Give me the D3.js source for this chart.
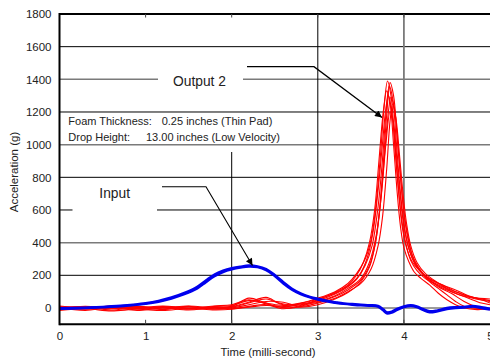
<!DOCTYPE html>
<html><head><meta charset="utf-8">
<script src="https://cdn.jsdelivr.net/npm/d3@7"></script>
<style>
html,body{margin:0;padding:0;background:#fff;}
svg{display:block;font-family:"Liberation Sans",Arial,sans-serif;}
</style></head>
<body>
<svg id="c" width="490" height="358"></svg>
<script>
// ---------- data ----------
const xTicks = [0, 1, 2, 3, 4, 5];
const yTicks = [0, 200, 400, 600, 800, 1000, 1200, 1400, 1600, 1800];
const xTitle = "Time (milli-second)";
const yTitle = "Acceleration (g)";
const annotationLines = [["Foam Thickness:", "0.25 inches (Thin Pad)"], ["Drop Height:", "13.00 inches (Low Velocity)"]];
const labelOutput = "Output 2";
const labelInput = "Input";

// Input (blue) traces: [time ms, acceleration g]
const input1 = [[0,-5],[0.25,-2],[0.5,4],[0.75,12],[1.0,25],[1.15,38],[1.3,58],[1.45,84],[1.6,120],[1.7,158],[1.8,195],[1.9,220],[2.0,236],[2.1,247],[2.2,254],[2.3,250],[2.4,232],[2.5,195],[2.6,150],[2.7,112],[2.8,85],[2.9,66],[3.0,52],[3.1,40],[3.2,32],[3.3,25],[3.4,20],[3.5,16],[3.6,14],[3.7,8],[3.76,-15],[3.8,-33],[3.86,-28],[3.92,-12],[4.0,5],[4.08,12],[4.15,5],[4.22,-12],[4.3,-27],[4.38,-22],[4.5,-6],[4.6,0],[4.7,2],[4.8,8],[4.9,0],[5.0,-10]];
const input2 = [[0,-2],[0.25,1],[0.5,7],[0.75,15],[1.0,29],[1.15,43],[1.3,64],[1.45,92],[1.6,130],[1.7,168],[1.8,205],[1.9,228],[2.0,243],[2.1,253],[2.2,260],[2.3,255],[2.4,238],[2.5,202],[2.6,158],[2.7,118],[2.8,90],[2.9,70],[3.0,57],[3.1,45],[3.2,36],[3.3,28],[3.4,24],[3.5,20],[3.6,17],[3.7,12],[3.76,-8],[3.8,-26],[3.86,-22],[3.92,-6],[4.0,10],[4.08,17],[4.15,10],[4.22,-6],[4.3,-20],[4.38,-16],[4.5,0],[4.6,5],[4.7,7],[4.8,12],[4.9,5],[5.0,-4]];

// Output 2 (red) traces
const outA = [[0,5],[0.3,-8],[0.6,6],[0.9,-5],[1.2,8],[1.5,-4],[1.8,10],[2.0,15],[2.2,45],[2.4,30],[2.6,15],[2.8,30],[3.0,60],[3.2,100],[3.35,150],[3.45,210],[3.55,300],[3.62,420],[3.68,650],[3.73,950],[3.77,1230],[3.81,1390],[3.85,1300],[3.89,1050],[3.93,780],[3.97,560],[4.02,400],[4.08,290],[4.15,230],[4.25,180],[4.35,150],[4.5,110],[4.65,80],[4.8,60],[5.0,40]];
const outB = [[0,-10],[0.3,4],[0.6,-12],[0.9,3],[1.2,-10],[1.5,6],[1.8,-5],[2.0,5],[2.2,30],[2.4,55],[2.6,20],[2.8,20],[3.0,45],[3.2,85],[3.35,130],[3.45,175],[3.55,260],[3.63,380],[3.7,620],[3.75,900],[3.79,1180],[3.83,1360],[3.87,1280],[3.91,1030],[3.95,760],[3.99,560],[4.04,400],[4.1,300],[4.18,230],[4.3,170],[4.45,130],[4.6,90],[4.75,60],[4.9,30],[5.0,20]];
const outC = [[0,12],[0.3,0],[0.6,10],[0.9,-3],[1.2,5],[1.5,-8],[1.8,4],[2.0,10],[2.2,60],[2.35,40],[2.5,10],[2.7,0],[2.9,25],[3.0,35],[3.2,70],[3.35,110],[3.5,170],[3.6,260],[3.67,400],[3.72,600],[3.77,900],[3.81,1150],[3.85,1290],[3.89,1220],[3.93,1000],[3.97,750],[4.01,540],[4.06,390],[4.12,290],[4.2,220],[4.3,160],[4.4,120],[4.5,80],[4.6,40],[4.7,10],[4.8,0],[5.0,-5]];
const outD = [[0,-5],[0.3,10],[0.6,-5],[0.9,8],[1.2,-6],[1.5,10],[1.8,-8],[2.0,0],[2.2,20],[2.4,40],[2.6,35],[2.8,10],[3.0,30],[3.2,60],[3.35,100],[3.5,150],[3.62,240],[3.7,380],[3.75,550],[3.8,850],[3.84,1150],[3.87,1250],[3.91,1150],[3.95,930],[3.99,700],[4.03,520],[4.08,380],[4.15,280],[4.25,210],[4.35,170],[4.5,120],[4.65,90],[4.8,65],[5.0,55]];
const outE = [[0,0],[0.3,-15],[0.6,2],[0.9,-15],[1.2,0],[1.5,-12],[1.8,2],[2.0,-5],[2.2,10],[2.4,20],[2.6,-5],[2.8,15],[3.0,50],[3.2,95],[3.35,140],[3.45,200],[3.53,280],[3.6,400],[3.66,600],[3.71,900],[3.76,1200],[3.8,1330],[3.84,1250],[3.88,1000],[3.92,720],[3.96,500],[4.0,370],[4.06,280],[4.12,220],[4.2,180],[4.3,140],[4.4,90],[4.5,50],[4.6,20],[4.7,0],[4.85,-10],[5.0,-5]];
const outF = [[0,8],[0.3,-3],[0.6,12],[0.9,0],[1.2,12],[1.5,0],[1.8,12],[2.0,20],[2.2,50],[2.4,25],[2.6,5],[2.8,25],[3.0,40],[3.2,75],[3.35,120],[3.5,180],[3.6,280],[3.68,450],[3.74,700],[3.79,1000],[3.84,1200],[3.88,1130],[3.92,900],[3.96,680],[4.0,500],[4.06,360],[4.13,270],[4.22,210],[4.32,170],[4.45,140],[4.6,100],[4.75,70],[4.9,55],[5.0,45]];
const outG = [[0,-15],[0.3,-5],[0.6,-18],[0.9,-8],[1.2,-15],[1.5,-3],[1.8,-12],[2.0,-8],[2.2,5],[2.4,15],[2.6,10],[2.8,5],[3.0,20],[3.2,55],[3.35,95],[3.5,160],[3.6,250],[3.67,400],[3.72,620],[3.76,880],[3.8,1180],[3.84,1380],[3.88,1300],[3.92,1060],[3.96,800],[4.0,590],[4.05,430],[4.1,320],[4.18,240],[4.28,180],[4.4,130],[4.55,90],[4.7,40],[4.85,5],[5.0,-10]];
const outH = [[0,3],[0.3,8],[0.6,-2],[0.9,10],[1.2,2],[1.5,12],[1.8,0],[2.0,8],[2.2,35],[2.4,65],[2.55,30],[2.7,20],[2.9,40],[3.0,55],[3.2,90],[3.35,135],[3.48,200],[3.57,300],[3.64,460],[3.7,720],[3.75,1000],[3.79,1220],[3.82,1300],[3.86,1200],[3.9,950],[3.94,700],[3.98,500],[4.03,370],[4.1,280],[4.2,220],[4.3,180],[4.45,140],[4.6,110],[4.75,75],[4.9,50],[5.0,30]];

const outputTraces = [outA, outB, outC, outD, outE, outF, outG, outH];
const inputTraces = [input1, input2];

// ---------- drawing ----------
const svg = d3.select("#c");
const x = d3.scaleLinear().domain([0, 5]).range([59.5, 490]);
const y = d3.scaleLinear().domain([-100, 1800]).range([324.3, 14]);

// horizontal gridlines (style per line as in the reference)
const grayLines = new Set([1400, 1000, 400, 0]);
const gaps = {1400: [158, 243], 600: [72.5, 157]};
const grid = svg.append("g");
yTicks.filter(v => v < 1800).forEach(v => {
  const col = grayLines.has(v) ? "#7a7a7a" : "#000";
  const w = grayLines.has(v) ? 1.5 : 1;
  const segs = gaps[v] ? [[x(0), gaps[v][0]], [gaps[v][1], x(5)]] : [[x(0), x(5)]];
  segs.forEach(s => grid.append("line").attr("x1", s[0]).attr("x2", s[1])
    .attr("y1", y(v)).attr("y2", y(v)).attr("stroke", col).attr("stroke-width", w));
});
// vertical gridlines
grid.append("line").attr("x1", x(2)).attr("x2", x(2)).attr("y1", 152).attr("y2", y(-100)).attr("stroke", "#000").attr("stroke-width", 1);
grid.append("line").attr("x1", x(3)).attr("x2", x(3)).attr("y1", y(1800)).attr("y2", y(-100)).attr("stroke", "#000").attr("stroke-width", 1);
grid.append("line").attr("x1", x(4)).attr("x2", x(4)).attr("y1", y(1800)).attr("y2", y(-100)).attr("stroke", "#7a7a7a").attr("stroke-width", 1.8);

// traces
const line = d3.line().x(d => x(d[0])).y(d => y(d[1])).curve(d3.curveCatmullRom.alpha(0.5));
svg.append("g").selectAll("path").data(outputTraces).join("path")
  .attr("d", line).attr("fill", "none").attr("stroke", "#ff0000").attr("stroke-width", 1.1);
svg.append("g").selectAll("path").data(inputTraces).join("path")
  .attr("d", line).attr("fill", "none").attr("stroke", "#0000ee").attr("stroke-width", 2.4);

// frame: top, left, bottom
svg.append("line").attr("x1", x(0)).attr("x2", x(5)).attr("y1", y(1800)).attr("y2", y(1800)).attr("stroke", "#000").attr("stroke-width", 2.2);
svg.append("line").attr("x1", x(0)).attr("x2", x(0)).attr("y1", y(1800) - 1).attr("y2", y(-100) + 1).attr("stroke", "#000").attr("stroke-width", 2);
svg.append("line").attr("x1", x(0)).attr("x2", x(5)).attr("y1", y(-100)).attr("y2", y(-100)).attr("stroke", "#000").attr("stroke-width", 2);

// small inward ticks on top and bottom
[1, 2, 3, 4].forEach(t => {
  svg.append("line").attr("x1", x(t)).attr("x2", x(t)).attr("y1", y(1800)).attr("y2", y(1800) + 3.5).attr("stroke", "#444").attr("stroke-width", 1);
  svg.append("line").attr("x1", x(t)).attr("x2", x(t)).attr("y1", y(-100)).attr("y2", y(-100) - 4.5).attr("stroke", "#444").attr("stroke-width", 1);
});

// axes labels via d3 axes
const ax = svg.append("g").attr("transform", `translate(0,${y(-100)})`)
  .call(d3.axisBottom(x).tickValues(xTicks).tickSize(0).tickPadding(7.5).tickFormat(d3.format("d")));
const ay = svg.append("g").attr("transform", `translate(${x(0)},0)`)
  .call(d3.axisLeft(y).tickValues(yTicks).tickSize(0).tickPadding(8).tickFormat(d3.format("d")));
[ax, ay].forEach(a => {
  a.select(".domain").remove();
  a.selectAll("text").attr("font-family", "Liberation Sans, Arial, sans-serif").attr("font-size", 11.5).attr("fill", "#222");
});

svg.append("text").attr("x", 268).attr("y", 355.5).attr("text-anchor", "middle")
  .attr("font-size", 11.3).attr("fill", "#222").text(xTitle);
svg.append("text").attr("transform", "translate(17.5,172) rotate(-90)").attr("text-anchor", "middle")
  .attr("font-size", 11.5).attr("fill", "#222").text(yTitle);

// annotation block
const annX = [68.3, 68.3];
const valX = [161.7, 146];
const annY = [125.3, 140.7];
annotationLines.forEach((l, i) => {
  svg.append("text").attr("x", annX[i]).attr("y", annY[i]).attr("font-size", 11).attr("fill", "#222").text(l[0]);
  svg.append("text").attr("x", valX[i]).attr("y", annY[i]).attr("font-size", 11).attr("fill", "#222").text(l[1]);
});

// arrow labels
svg.append("defs").append("marker").attr("id", "ah").attr("viewBox", "0 0 10 10")
  .attr("refX", 10).attr("refY", 5).attr("markerWidth", 9).attr("markerHeight", 7)
  .attr("markerUnits", "userSpaceOnUse").attr("orient", "auto")
  .append("path").attr("d", "M0,0 L10,5 L0,10 z").attr("fill", "#000");

svg.append("text").attr("x", 173).attr("y", 85.5).attr("font-size", 13.8).attr("fill", "#222").text(labelOutput);
svg.append("polyline").attr("points", "247,66.7 314,66.7 382,117.5").attr("fill", "none")
  .attr("stroke", "#000").attr("stroke-width", 1.3).attr("marker-end", "url(#ah)");

svg.append("text").attr("x", 99.3).attr("y", 197.5).attr("font-size", 13.8).attr("fill", "#222").text(labelInput);
svg.append("polyline").attr("points", "162,186.7 206,186.7 252.5,265.5").attr("fill", "none")
  .attr("stroke", "#000").attr("stroke-width", 1.1).attr("marker-end", "url(#ah)");
</script>
</body></html>
